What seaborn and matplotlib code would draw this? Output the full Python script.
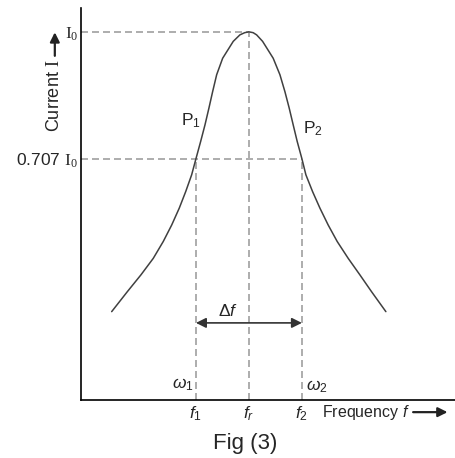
import numpy as np
import matplotlib
matplotlib.use('Agg')
import matplotlib.pyplot as plt
import seaborn as sns

# resonance curve (frequency in arbitrary units, current as fraction of I0)
curve_f = [74.09, 77.04, 79.62, 81.94, 83.83, 85.42, 86.85, 88.06, 89.19, 90.0,
           90.89, 91.70, 92.45, 93.15, 93.91, 95.04, 97.04, 98.30, 99.2, 100.0,
           100.8, 101.45, 102.58, 104.58, 105.85, 106.79, 107.60, 108.36, 109.11, 110.0,
           110.75, 112.02, 113.40, 114.96, 116.66, 118.74, 120.94, 123.15, 125.85]
curve_i = [0.354, 0.400, 0.439, 0.477, 0.516, 0.554, 0.593, 0.631, 0.670, 0.707,
           0.747, 0.785, 0.824, 0.862, 0.901, 0.939, 0.978, 0.993, 0.998, 1.0,
           0.998, 0.993, 0.978, 0.939, 0.901, 0.862, 0.824, 0.785, 0.747, 0.707,
           0.670, 0.631, 0.593, 0.554, 0.516, 0.477, 0.439, 0.400, 0.354]

f1, fr, f2 = 90.0, 100.0, 110.0
i_peak = 1.0
i_half = 0.707
x_ticks = [f1, fr, f2]
x_tick_labels = ['$f_1$', '$f_r$', '$f_2$']
y_ticks = [i_half, i_peak]
y_tick_labels = [r'0.707 $\mathtt{I}_\mathtt{0}$', r'$\mathtt{I}_\mathtt{0}$']

sns.set_style('white')
plt.rcParams['font.family'] = ['Liberation Sans', 'DejaVu Sans']
plt.rcParams['mathtext.fontset'] = 'custom'
plt.rcParams['mathtext.rm'] = 'Liberation Sans'
plt.rcParams['mathtext.it'] = 'Liberation Sans:italic'
plt.rcParams['mathtext.tt'] = 'Liberation Serif'

fs = 12.5

fig = plt.figure(figsize=(4.55, 4.58), dpi=100)
ax = fig.add_axes([81 / 455, 1 - 400 / 458, 374 / 455, 392 / 458])

dash_kw = dict(color='#a0a0a0', lw=1.2, dashes=(4.2, 2.4), zorder=1)
ax.plot([68.3, fr], [i_peak, i_peak], **dash_kw)
ax.plot([68.3, f2], [i_half, i_half], **dash_kw)
ax.plot([fr, fr], [0.15, i_peak], **dash_kw)
ax.plot([f1, f1], [0.15, i_half], **dash_kw)
ax.plot([f2, f2], [0.15, i_half], **dash_kw)

sns.lineplot(x=curve_f, y=curve_i, color='#404040', lw=1.1, ax=ax, zorder=3)

ax.set_xlim(68.3, 138.9)
ax.set_ylim(0.15, 1.055)
ax.set_xticks(x_ticks, x_tick_labels)
ax.set_yticks(y_ticks, y_tick_labels)
ax.tick_params(length=0, labelsize=fs)
ax.tick_params(axis='x', pad=3)
ax.tick_params(axis='y', pad=2)
for side in ['top', 'right']:
    ax.spines[side].set_visible(False)
for side in ['left', 'bottom']:
    ax.spines[side].set_color('black')
    ax.spines[side].set_linewidth(1.2)

head = dict(arrowstyle='-|>', color='#222222', lw=1.6, mutation_scale=14,
            shrinkA=0, shrinkB=0)

# axis titles with their arrows
ax.text(-0.07, 0.684, r'Current $\mathtt{I}$', fontsize=13, rotation=90,
        ha='center', va='bottom', transform=ax.transAxes)
ax.annotate('', xy=(-0.07, 0.938), xytext=(-0.07, 0.878),
            xycoords='axes fraction', textcoords='axes fraction', arrowprops=head)
ax.text(113.8, -0.031, 'Frequency $f$', fontsize=11.5, ha='left', va='center',
        transform=ax.get_xaxis_transform())
ax.annotate('', xy=(0.98, -0.031), xytext=(0.888, -0.031),
            xycoords='axes fraction', textcoords='axes fraction', arrowprops=head)

# bandwidth arrow
ax.annotate('', xy=(f1, 0.328), xytext=(f2, 0.328),
            arrowprops=dict(arrowstyle='<|-|>', color='#333333', lw=1.2, mutation_scale=15,
                            shrinkA=0, shrinkB=0))
ax.text(96.0, 0.338, r'$\Delta f$', fontsize=fs, ha='center', va='bottom')

ax.text(89.0, 0.794, 'P$_1$', fontsize=fs, ha='center', va='center')
ax.text(112.0, 0.776, 'P$_2$', fontsize=fs, ha='center', va='center')
ax.text(87.5, 0.185, r'$\omega_1$', fontsize=fs, ha='center', va='center')
ax.text(112.8, 0.180, r'$\omega_2$', fontsize=fs, ha='center', va='center')

fig.text(245 / 455, 1 - 443 / 458, 'Fig (3)', fontsize=16, ha='center', va='center')

fig.savefig('out.png', dpi=100)
